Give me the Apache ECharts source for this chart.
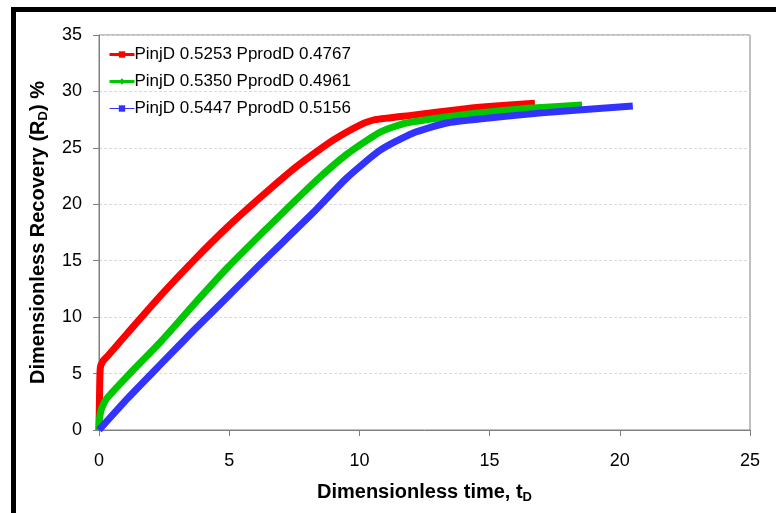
<!DOCTYPE html>
<html>
<head>
<meta charset="utf-8">
<script src="https://cdn.jsdelivr.net/npm/echarts@6/dist/echarts.min.js"></script>
<style>html,body{margin:0;padding:0;background:#fff;}#c{width:776px;height:513px;}</style>
</head>
<body>
<div id="c"></div>
<script>
const seriesNames = ['PinjD 0.5253 PprodD 0.4767', 'PinjD 0.5350 PprodD 0.4961', 'PinjD 0.5447 PprodD 0.5156'];
const redData = [[0,0],[0.02,3],[0.05,5.5],[0.15,6.1],[0.35,6.6],[1.1,8.6],[2.4,12.0],[3.67,15.1],[4.94,18.0],[6.24,20.7],[7.4,23.0],[8.2,24.4],[9.0,25.7],[10.0,27.0],[10.6,27.5],[12.05,27.9],[13.86,28.4],[14.6,28.6],[16.74,28.95]];
const greenData = [[0,0],[0.02,1.0],[0.1,1.9],[0.3,2.8],[1.1,4.8],[2.4,7.9],[3.67,11.2],[4.94,14.4],[6.24,17.4],[8.2,21.8],[9.5,24.4],[10.8,26.4],[11.8,27.2],[13.86,27.9],[14.6,28.1],[16.5,28.5],[18.55,28.8]];
const blueData = [[0,0],[1.1,2.8],[2.4,5.9],[3.67,8.9],[4.94,11.8],[6.24,14.8],[8.2,19.2],[9.5,22.3],[10.8,24.8],[12.05,26.3],[13.35,27.2],[14.6,27.55],[17.0,28.1],[20.5,28.7]];
const xTicks = [0, 5, 10, 15, 20, 25];
const yTicks = [0, 5, 10, 15, 20, 25, 30, 35];

const FONT = '"Liberation Sans", Arial, sans-serif';
const colors = ['#ff0000', '#00c800', '#3333ff'];
const symbols = ['rect', 'diamond', 'rect'];
const datasets = [redData, greenData, blueData];
const legendLineW = [3, 3, 1];

const chart = echarts.init(document.getElementById('c'), null, {renderer: 'canvas'});
const titleRich = {
  b: {fontSize: 20, fontWeight: 'bold', fontFamily: FONT, color: '#000', verticalAlign: 'top', lineHeight: 22},
  s: {fontSize: 13, fontWeight: 'bold', fontFamily: FONT, color: '#000', verticalAlign: 'top', lineHeight: 22, padding: [9, 0, 0, 0]}
};
chart.setOption({
  animation: false,
  backgroundColor: '#fff',
  graphic: [
    {type: 'rect', shape: {x: 11, y: 7, width: 776, height: 5}, style: {fill: '#000'}, silent: true},
    {type: 'rect', shape: {x: 11, y: 7, width: 5, height: 520}, style: {fill: '#000'}, silent: true}
  ],
  grid: {left: 99, top: 35, right: 26, bottom: 83, show: true, borderColor: '#808080', borderWidth: 1, backgroundColor: 'transparent'},
  legend: {
    orient: 'vertical', left: 103, top: 41, itemGap: 10, itemWidth: 25, itemHeight: 8,
    textStyle: {fontSize: 17, fontFamily: FONT, color: '#000', padding: [0, 0, 0, -5]},
    data: seriesNames.map((n, i) => ({name: n, lineStyle: {width: legendLineW[i], color: colors[i]}, itemStyle: {color: colors[i]}}))
  },
  xAxis: {
    type: 'value', min: xTicks[0], max: xTicks[xTicks.length - 1], interval: 5,
    name: '{b|Dimensionless time, t}{s|D}', nameLocation: 'middle', nameGap: 52,
    nameTextStyle: {rich: titleRich},
    axisLine: {show: true, lineStyle: {color: '#808080', width: 1}},
    axisTick: {show: true, inside: false, length: 6, lineStyle: {color: '#808080'}},
    axisLabel: {fontSize: 18, fontFamily: FONT, color: '#000', margin: 22},
    splitLine: {show: false}
  },
  yAxis: {
    type: 'value', min: yTicks[0], max: yTicks[yTicks.length - 1], interval: 5,
    name: '{b|Dimensionless Recovery (R}{s|D}{b|) %}', nameLocation: 'middle', nameGap: 49,
    nameTextStyle: {rich: titleRich},
    axisLine: {show: true, lineStyle: {color: '#808080', width: 1}},
    axisTick: {show: true, inside: false, length: 6, lineStyle: {color: '#808080'}},
    axisLabel: {fontSize: 18, fontFamily: FONT, color: '#000', margin: 17},
    splitLine: {show: true, lineStyle: {color: '#d9d9d9', type: [3, 2], width: 1}}
  },
  series: datasets.map((d, i) => ({
    name: seriesNames[i], type: 'line', data: d,
    symbol: symbols[i], symbolSize: i === 1 ? 9 : 7, showSymbol: false,
    lineStyle: {width: 7, color: colors[i]}, itemStyle: {color: colors[i]},
    smooth: 0.2, z: 2 + i
  }))
});
</script>
</body>
</html>
